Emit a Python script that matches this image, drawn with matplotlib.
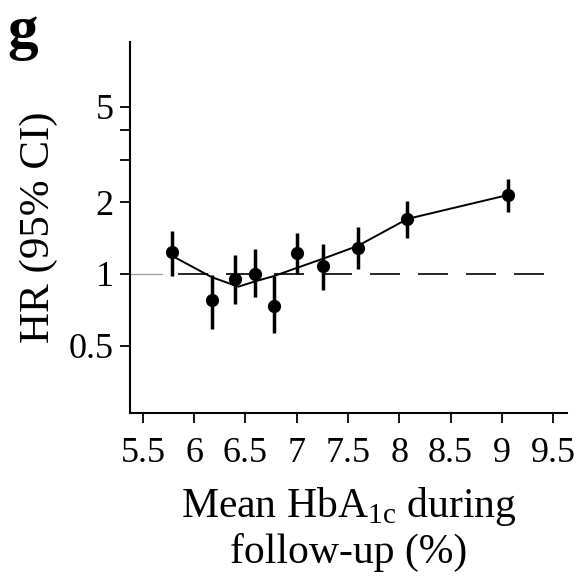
import matplotlib
matplotlib.use("Agg")
import matplotlib.pyplot as plt
from matplotlib.ticker import FixedLocator, NullLocator, NullFormatter

# Data
hba1c = [5.785, 6.17, 6.395, 6.59, 6.777, 7.0, 7.26, 7.594, 8.08, 9.06]
hr = [1.24, 0.78, 0.95, 1.00, 0.737, 1.22, 1.08, 1.29, 1.70, 2.14]
ci_low = [0.98, 0.59, 0.75, 0.80, 0.565, 1.00, 0.86, 1.05, 1.42, 1.82]
ci_high = [1.52, 0.99, 1.20, 1.27, 0.98, 1.49, 1.33, 1.57, 2.02, 2.49]

fit_x = [5.785, 6.17, 6.43, 6.59, 6.777, 7.0, 7.26, 7.594, 8.08, 9.06]
fit_y = [1.19, 0.97, 0.885, 0.93, 0.98, 1.06, 1.16, 1.31, 1.70, 2.14]

ref_solid_x = [5.374, 5.685]
ref_dash_x = [5.84, 9.42]
ref_y = 1.0

yticks = [0.5, 1, 2, 3, 4, 5]
ytick_labels = ["0.5", "1", "2", "", "", "5"]
xticks = [5.5, 6, 6.5, 7, 7.5, 8, 8.5, 9, 9.5]
xtick_labels = ["5.5", "6", "6.5", "7", "7.5", "8", "8.5", "9", "9.5"]

plt.rcParams['font.family'] = ['Liberation Serif', 'DejaVu Serif']
plt.rcParams['mathtext.fontset'] = 'custom'
plt.rcParams['mathtext.rm'] = 'Liberation Serif'

fig = plt.figure(figsize=(5.78, 5.84), dpi=100)
ax = fig.add_axes([0.225, 0.2928, 0.756, 0.635])

ax.set_yscale('log')
ax.set_ylim(0.262, 9.33)
ax.set_xlim(5.374, 9.636)

# reference line
ax.plot(ref_solid_x, [ref_y, ref_y], color='#999999', lw=0.9, zorder=1)
ax.plot(ref_dash_x, [ref_y, ref_y], color='black', lw=1.2, dashes=(18, 10.8), zorder=1)

# fit
ax.plot(fit_x, fit_y, color='black', lw=1.4, zorder=2)

# points + CI
yerr = [[h - l for h, l in zip(hr, ci_low)], [u - h for h, u in zip(hr, ci_high)]]
ax.errorbar(hba1c, hr, yerr=yerr, fmt='o', color='black', ms=8.5, elinewidth=2.5,
            capsize=0, zorder=3)

ax.yaxis.set_major_locator(FixedLocator(yticks))
ax.yaxis.set_minor_locator(NullLocator())
ax.yaxis.set_minor_formatter(NullFormatter())
ax.set_yticklabels(ytick_labels)
ax.set_xticks(xticks)
ax.set_xticklabels(xtick_labels)

for s in ['top', 'right']:
    ax.spines[s].set_visible(False)
for s in ['left', 'bottom']:
    ax.spines[s].set_linewidth(1.5)

ax.tick_params(axis='both', which='major', length=7, width=1.3, labelsize=26)
ax.tick_params(axis='x', pad=10)
ax.tick_params(axis='y', pad=5)

ax.set_ylabel('HR (95% CI)', fontsize=31)
ax.yaxis.set_label_coords(-0.165, 0.5)
ax.set_xlabel('Mean HbA$_{\\mathrm{1c}}$ during\nfollow-up (%)', fontsize=30,
              labelpad=11, linespacing=1.18)

fig.text(0.012, 0.992, 'g', fontsize=44, fontweight='bold', va='top', ha='left')

fig.savefig('out.png', dpi=100)
